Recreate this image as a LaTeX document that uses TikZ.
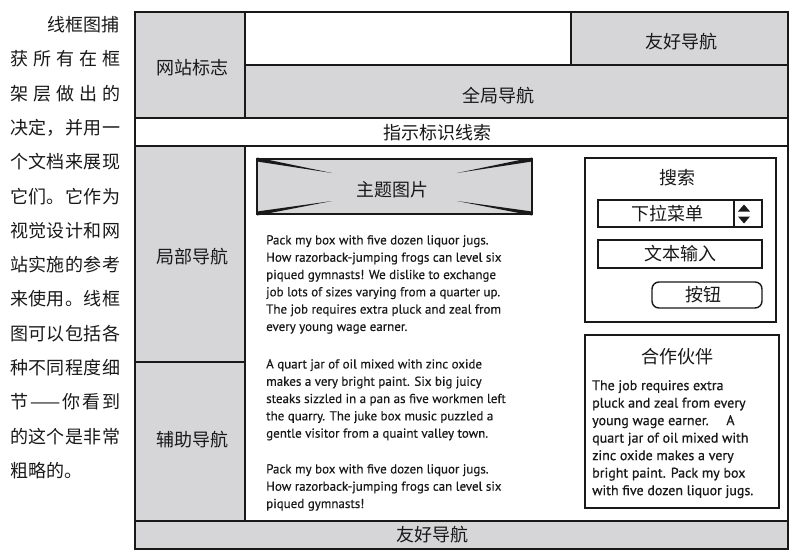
\documentclass[tikz,border=0pt]{standalone}
\usepackage{fontspec}
\setmainfont{PT Sans}
\newfontfamily\cjk{Noto Sans CJK SC}
\newfontfamily\copyfont[FakeBold=0.35]{PT Sans}
\newfontfamily\sidefont[FakeBold=0.7]{PT Sans}
\definecolor{panel}{RGB}{214,214,217}
\definecolor{ink}{RGB}{25,25,25}
\begin{document}
\begin{tikzpicture}[x=1pt,y=-1pt,
  framewire/.style={line width=1.6pt,draw=ink},
  widget/.style={line width=1.4pt,draw=ink},
  zh/.style={font=\cjk\fontsize{18}{20}\selectfont,inner sep=0,text=ink},
  note/.style={font=\cjk\fontsize{18}{20}\selectfont,inner sep=0,anchor=west,text=ink},
  body/.style={font=\copyfont\fontsize{13}{17.3}\selectfont,align=left,anchor=north west,inner sep=0,text=ink},
  side/.style={font=\sidefont\fontsize{14}{17.5}\selectfont,align=left,anchor=north west,inner sep=0,text=ink}]
\useasboundingbox[fill=white] (0,0) rectangle (793,558);

% shaded regions of the page layout
\fill[panel] (135,12) rectangle (245,118);
\fill[panel] (571,12) rectangle (788,65);
\fill[panel] (245,65) rectangle (788,118);
\fill[panel] (135,146) rectangle (245,521);
\fill[panel] (135,521) rectangle (788,549);

% wireframe rules
\draw[framewire] (135,12) rectangle (788,549);
\draw[framewire] (245,12) -- (245,118);
\draw[framewire] (571,12) -- (571,65);
\draw[framewire] (245,65) -- (788,65);
\draw[framewire] (135,118) -- (788,118);
\draw[framewire] (135,146) -- (788,146);
\draw[framewire] (245,146) -- (245,521);
\draw[framewire] (135,362) -- (245,362);
\draw[framewire] (135,521) -- (788,521);

% region labels
\node[zh] (logo) at (192,68) {网站标志};
\node[zh] (friendtop) at (681,42) {友好导航};
\node[zh] (globalnav) at (498,96) {全局导航};
\node[zh] (crumbs) at (437,133) {指示标识线索};
\node[zh] (localnav) at (192,257) {局部导航};
\node[zh] (auxnav) at (192,440) {辅助导航};
\node[zh] (friendbot) at (432,535) {友好导航};

% hero image placeholder
\fill[panel] (257,159) rectangle (532,214);
\fill[ink] (257,157.5) -- (257,161.5) -- (332,173) -- cycle;
\fill[ink] (257,211.5) -- (257,215.5) -- (332,201) -- cycle;
\fill[ink] (532,157.5) -- (532,161.5) -- (457,173) -- cycle;
\fill[ink] (532,211.5) -- (532,215.5) -- (457,201) -- cycle;
\draw[line width=2.4pt,draw=ink] (257,159) rectangle (532,214);
\node[zh] (hero) at (392,190) {主题图片};

% body copy
\node[body] (para1) at (266,235) {Pack my box with five dozen liquor jugs.\\
How razorback-jumping frogs can level six\\
piqued gymnasts! We dislike to exchange\\
job lots of sizes varying from a quarter up.\\
The job requires extra pluck and zeal from\\
every young wage earner.};
\node[body] (para2) at (266,359) {A quart jar of oil mixed with zinc oxide\\
makes a very bright paint. Six big juicy\\
steaks sizzled in a pan as five workmen left\\
the quarry. The juke box music puzzled a\\
gentle visitor from a quaint valley town.};
\node[body] (para3) at (266,464) {Pack my box with five dozen liquor jugs.\\
How razorback-jumping frogs can level six\\
piqued gymnasts!};

% search widget
\draw[widget] (585,158) rectangle (776,322);
\node[zh] (search) at (677,178) {搜索};
\draw[widget] (598,200) rectangle (762,227);
\draw[widget] (734,200) -- (734,227);
\node[zh] (dropdown) at (667,214) {下拉菜单};
\fill[ink] (738,211.5) -- (750,211.5) -- (744,204.5) -- cycle;
\fill[ink] (738,216.5) -- (750,216.5) -- (744,223.5) -- cycle;
\draw[widget] (598,240) rectangle (762,268);
\node[zh] (textin) at (680,254) {文本输入};
\draw[widget,rounded corners=7pt] (652,282) rectangle (762,308);
\node[zh] (button) at (703,295) {按钮};

% partner panel
\draw[widget] (585,335) rectangle (779,508);
\node[zh] (partner) at (677,357) {合作伙伴};
\node[side] (partnertext) at (592,380) {The job requires extra\\
pluck and zeal from every\\
young wage earner.\quad\ A\\
quart jar of oil mixed with\\
zinc oxide makes a very\\
bright paint. Pack my box\\
with five dozen liquor jugs.};

% side note
\node[note,anchor=east] (n1) at (120,25) {线框图捕};
\node[note] (n2) at (10,59) {\makebox[110pt]{获\hfill 所\hfill 有\hfill 在\hfill 框}};
\node[note] (n3) at (10,94) {\makebox[110pt]{架\hfill 层\hfill 做\hfill 出\hfill 的}};
\node[note] (n4) at (10,128) {\makebox[110pt]{决\hfill 定\hfill ，\hfill 并\hfill 用\hfill 一}};
\node[note] (n5) at (10,162) {\makebox[110pt]{个\hfill 文\hfill 档\hfill 来\hfill 展\hfill 现}};
\node[note] (n6) at (10,197) {\makebox[110pt]{它\hfill 们\hfill 。\hfill 它\hfill 作\hfill 为}};
\node[note] (n7) at (10,231) {\makebox[110pt]{视\hfill 觉\hfill 设\hfill 计\hfill 和\hfill 网}};
\node[note] (n8) at (10,265) {\makebox[110pt]{站\hfill 实\hfill 施\hfill 的\hfill 参\hfill 考}};
\node[note] (n9) at (10,299) {\makebox[110pt]{来\hfill 使\hfill 用\hfill 。\hfill 线\hfill 框}};
\node[note] (n10) at (10,334) {\makebox[110pt]{图\hfill 可\hfill 以\hfill 包\hfill 括\hfill 各}};
\node[note] (n11) at (10,368) {\makebox[110pt]{种\hfill 不\hfill 同\hfill 程\hfill 度\hfill 细}};
\node[note] (n12) at (10,402) {\makebox[110pt]{节\hfill ——\hfill 你\hfill 看\hfill 到}};
\node[note] (n13) at (10,437) {\makebox[110pt]{的\hfill 这\hfill 个\hfill 是\hfill 非\hfill 常}};
\node[note] (n14) at (10,471) {粗略的。};
\end{tikzpicture}
\end{document}
